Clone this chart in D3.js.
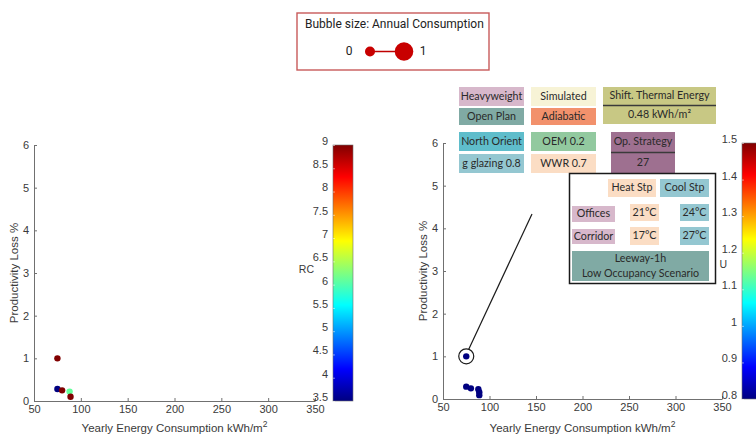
<!DOCTYPE html>
<html>
<head>
<meta charset="utf-8">
<script src="https://cdn.jsdelivr.net/npm/d3@7"></script>
<style>
  html, body { margin: 0; padding: 0; background: #fff; }
  svg { display: block; }
</style>
</head>
<body>
<svg id="chart" width="756" height="434"></svg>
<script>
// ---------- data ----------
const xTicks = [50, 100, 150, 200, 250, 300, 350];
const yTicks = [0, 1, 2, 3, 4, 5, 6];
const rcTicks = [3.5, 4, 4.5, 5, 5.5, 6, 6.5, 7, 7.5, 8, 8.5, 9];
const uTicks = [0.8, 0.9, 1, 1.1, 1.2, 1.3, 1.4, 1.5];

const leftEnergy = [75, 75, 80, 88, 89];
const leftLoss   = [1.0, 0.28, 0.25, 0.22, 0.1];
const leftRC     = [9, 3.5, 9, 6.1, 9];

const rightEnergy = [75, 75, 80, 88, 89, 89];
const rightLoss   = [1.0, 0.29, 0.25, 0.23, 0.16, 0.09];
const rightU      = [0.8, 0.8, 0.8, 0.8, 0.8, 0.8];

const highlighted = {energy: 75, loss: 1.0};

const legendLabels = ["0", "1"];
const legendTitle = "Bubble size: Annual Consumption";

// ---------- helpers ----------
const svg = d3.select("#chart");
const axisFont = "Liberation Sans, Arial, sans-serif";
const boxFont = "Lato, 'Open Sans', sans-serif";

// MATLAB jet colormap
const jetStops = [
  [0, "#000080"], [0.125, "#0000ff"], [0.375, "#00ffff"],
  [0.625, "#ffff00"], [0.875, "#ff0000"], [1, "#800000"]
];
const jet = d3.scaleLinear()
  .domain(jetStops.map(d => d[0]))
  .range(jetStops.map(d => d[1]))
  .interpolate(d3.interpolateRgb)
  .clamp(true);

const defs = svg.append("defs");
const grad = defs.append("linearGradient").attr("id", "jetGrad")
  .attr("x1", 0).attr("y1", 1).attr("x2", 0).attr("y2", 0);
jetStops.forEach(s => grad.append("stop").attr("offset", s[0]).attr("stop-color", s[1]));

const fmt = d3.format("~g");

function styleAxis(g) {
  g.selectAll("path.domain").attr("stroke", "#707070").attr("stroke-width", 1);
  g.selectAll(".tick line").attr("stroke", "#707070");
  g.selectAll(".tick text").attr("fill", "#3a3a3a")
    .style("font-family", axisFont).style("font-size", "11px");
}

function drawPanel(cfg) {
  const x = d3.scaleLinear().domain([50, 350]).range([cfg.x0, cfg.x1]);
  const y = d3.scaleLinear().domain([0, 6]).range([cfg.y0, cfg.y1]);
  const g = svg.append("g");

  const gx = g.append("g").attr("transform", `translate(0,${cfg.y0})`)
    .call(d3.axisBottom(x).tickValues(xTicks).tickFormat(fmt).tickSizeInner(-3).tickSizeOuter(0).tickPadding(4));
  styleAxis(gx);
  const gy = g.append("g").attr("transform", `translate(${cfg.x0},0)`)
    .call(d3.axisLeft(y).tickValues(yTicks).tickFormat(fmt).tickSizeInner(-3).tickSizeOuter(0).tickPadding(5));
  styleAxis(gy);

  // axis labels
  const xl = g.append("text")
    .attr("x", (cfg.x0 + cfg.x1) / 2).attr("y", 432)
    .attr("text-anchor", "middle").attr("fill", "#3a3a3a")
    .style("font-family", axisFont).style("font-size", "11.5px");
  xl.append("tspan").text("Yearly Energy Consumption kWh/m");
  xl.append("tspan").attr("dy", -5).style("font-size", "8.5px").text("2");

  g.append("text")
    .attr("transform", `translate(${cfg.ylabX},${(cfg.y0 + cfg.y1) / 2}) rotate(-90)`)
    .attr("text-anchor", "middle").attr("dominant-baseline", "middle")
    .attr("fill", "#3a3a3a")
    .style("font-family", axisFont).style("font-size", "11.5px")
    .text("Productivity Loss %");

  // colorbar
  const cb = d3.scaleLinear().domain(cfg.cbDomain).range([cfg.y0, cfg.y1]);
  g.append("rect")
    .attr("x", cfg.cbX).attr("y", cfg.y1)
    .attr("width", cfg.cbW).attr("height", cfg.y0 - cfg.y1)
    .attr("fill", "url(#jetGrad)").attr("stroke", "#707070").attr("stroke-width", 0.6);
  const gc = g.append("g").attr("transform", `translate(${cfg.cbX},0)`)
    .call(d3.axisLeft(cb).tickValues(cfg.cbTicks).tickSizeInner(-2).tickSizeOuter(0).tickPadding(5)
      .tickFormat(fmt));
  styleAxis(gc);
  gc.selectAll("path.domain").remove();
  gc.selectAll(".tick line").attr("stroke", "#ffffff").attr("stroke-opacity", 0.5);
  gc.selectAll(".tick text").attr("dy", "-0.05em");
  g.append("text")
    .attr("x", cfg.cbLabX).attr("y", cfg.cbLabY)
    .attr("text-anchor", "end").attr("dominant-baseline", "middle")
    .attr("fill", "#3a3a3a")
    .style("font-family", axisFont).style("font-size", "10.5px")
    .text(cfg.cbLabel);

  // points
  const pts = cfg.energy.map((e, i) => ({e, l: cfg.loss[i], c: cfg.color[i]}));
  g.append("g").selectAll("circle").data(pts).join("circle")
    .attr("cx", d => x(d.e)).attr("cy", d => y(d.l)).attr("r", 3.2)
    .attr("fill", d => jet((d.c - cfg.cbDomain[0]) / (cfg.cbDomain[1] - cfg.cbDomain[0])));

  return {x, y, g};
}

// left panel
drawPanel({
  x0: 34, x1: 315, y0: 401, y1: 145, ylabX: 15,
  energy: leftEnergy, loss: leftLoss, color: leftRC,
  cbDomain: [3.5, 9], cbTicks: rcTicks, cbX: 333, cbW: 20,
  cbLabel: "RC", cbLabX: 314, cbLabY: 270
});

// right panel
const right = drawPanel({
  x0: 443, x1: 722, y0: 399, y1: 143, ylabX: 424,
  energy: rightEnergy, loss: rightLoss, color: rightU,
  cbDomain: [0.8, 1.5], cbTicks: uTicks, cbX: 742, cbW: 20,
  cbLabel: "U", cbLabX: 727, cbLabY: 265
});

// highlight circle and pointer line
{
  const hx = right.x(highlighted.energy), hy = right.y(highlighted.loss);
  right.g.append("circle").attr("cx", hx).attr("cy", hy).attr("r", 7.5)
    .attr("fill", "none").attr("stroke", "#1a1a1a").attr("stroke-width", 1.2);
  right.g.append("line")
    .attr("x1", hx + 2.5).attr("y1", hy - 7.2)
    .attr("x2", 532).attr("y2", 214)
    .attr("stroke", "#1a1a1a").attr("stroke-width", 1.2);
}

// ---------- annotation boxes ----------
const boxes = [
  {x: 459, y: 87, w: 65, h: 19, fill: "#d7b8cb", t: ["Heavyweight"]},
  {x: 459, y: 108, w: 65, h: 17, fill: "#80aaa4", t: ["Open Plan"]},
  {x: 531, y: 87, w: 65, h: 19, fill: "#f7f3d6", t: ["Simulated"]},
  {x: 531, y: 108, w: 65, h: 17, fill: "#f2916c", t: ["Adiabatic"]},
  {x: 603, y: 87, w: 113, h: 37, fill: "#c8c884", t: ["Shift. Thermal Energy", "0.48 kWh/m²"], divider: true},
  {x: 459, y: 132, w: 65, h: 19, fill: "#5fbdcb", t: ["North Orient"]},
  {x: 459, y: 154, w: 65, h: 19, fill: "#94c7d1", t: ["g glazing 0.8"]},
  {x: 531, y: 132, w: 65, h: 19, fill: "#92c99f", t: ["OEM 0.2"]},
  {x: 531, y: 154, w: 65, h: 19, fill: "#fbddc4", t: ["WWR 0.7"]}
];

const ann = svg.append("g");
const boxFontSize = "10.7px";
function drawBox(b) {
  ann.append("rect").attr("x", b.x).attr("y", b.y).attr("width", b.w).attr("height", b.h).attr("fill", b.fill);
  if (b.t.length === 1) {
    ann.append("text").attr("x", b.x + b.w / 2).attr("y", b.y + b.h / 2 + 0.5)
      .attr("text-anchor", "middle").attr("dominant-baseline", "middle")
      .attr("fill", "#2a2a2a").style("font-family", boxFont).style("font-size", boxFontSize).text(b.t[0]);
  } else {
    const hh = b.h / 2;
    b.t.forEach((s, i) => {
      ann.append("text").attr("x", b.x + b.w / 2).attr("y", b.y + hh * i + hh / 2 + 0.5)
        .attr("text-anchor", "middle").attr("dominant-baseline", "middle")
        .attr("fill", "#2a2a2a").style("font-family", boxFont).style("font-size", boxFontSize).text(s);
    });
    if (b.divider) {
      ann.append("line").attr("x1", b.x).attr("x2", b.x + b.w)
        .attr("y1", b.y + hh).attr("y2", b.y + hh).attr("stroke", "#3a3a3a").attr("stroke-width", 1.3);
    }
  }
}
boxes.forEach(drawBox);

// Op. Strategy box
drawBox({x: 611, y: 132, w: 64, h: 41, fill: "#9e7090", t: ["Op. Strategy", "27"], divider: true});

// inset box
ann.append("rect").attr("x", 569.5).attr("y", 173.5).attr("width", 146).attr("height", 110)
  .attr("fill", "#ffffff").attr("stroke", "#1a1a1a").attr("stroke-width", 1.5);
const inset = [
  {x: 608, y: 179, w: 48, h: 18, fill: "#fbddc4", t: ["Heat Stp"]},
  {x: 660, y: 179, w: 49, h: 18, fill: "#94c7d1", t: ["Cool Stp"]},
  {x: 572, y: 206, w: 43, h: 16, fill: "#d7b8cb", t: ["Offices"]},
  {x: 630, y: 204, w: 29, h: 17, fill: "#fbddc4", t: ["21°C"]},
  {x: 680, y: 204, w: 29, h: 17, fill: "#94c7d1", t: ["24°C"]},
  {x: 572, y: 229, w: 43, h: 15, fill: "#d7b8cb", t: ["Corridor"]},
  {x: 630, y: 227, w: 29, h: 18, fill: "#fbddc4", t: ["17°C"]},
  {x: 680, y: 227, w: 29, h: 18, fill: "#94c7d1", t: ["27°C"]},
  {x: 572, y: 251, w: 137, h: 30, fill: "#80aaa4", t: ["Leeway-1h", "Low Occupancy Scenario"]}
];
inset.forEach(drawBox);

// ---------- size legend ----------
const lg = svg.append("g");
lg.append("rect").attr("x", 297).attr("y", 13).attr("width", 192).attr("height", 57)
  .attr("fill", "#ffffff").attr("stroke", "#c85a5a").attr("stroke-width", 1.4);
lg.append("text").attr("x", 305).attr("y", 28)
  .attr("fill", "#222").style("font-family", "Roboto, Arial, sans-serif").style("font-size", "12px")
  .text(legendTitle);
const sizeScale = d3.scaleLinear().domain([0, 1]).range([5, 9.3]);
const posScale = d3.scaleLinear().domain([0, 1]).range([370, 404]);
lg.append("line").attr("x1", posScale(0)).attr("x2", posScale(1)).attr("y1", 51.5).attr("y2", 51.5)
  .attr("stroke", "#c00000").attr("stroke-width", 1.3);
[0, 1].forEach(v => {
  lg.append("circle").attr("cx", posScale(v)).attr("cy", 51.5).attr("r", sizeScale(v)).attr("fill", "#c80000");
});
lg.append("text").attr("x", 349).attr("y", 52).attr("text-anchor", "middle").attr("dominant-baseline", "middle")
  .attr("fill", "#222").style("font-family", "Roboto, Arial, sans-serif").style("font-size", "12px").text(legendLabels[0]);
lg.append("text").attr("x", 423).attr("y", 52).attr("text-anchor", "middle").attr("dominant-baseline", "middle")
  .attr("fill", "#222").style("font-family", "Roboto, Arial, sans-serif").style("font-size", "12px").text(legendLabels[1]);
</script>
</body>
</html>
